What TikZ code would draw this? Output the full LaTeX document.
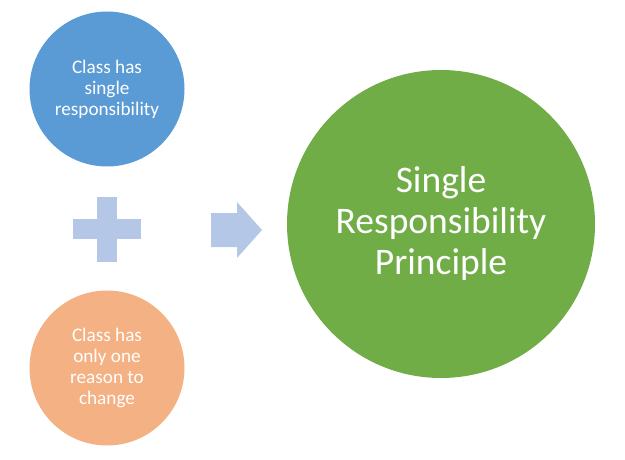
\documentclass[tikz,border=0pt]{standalone}
\usepackage{fontspec}
\setmainfont{Carlito}
\usetikzlibrary{positioning}
\definecolor{dutyblue}{HTML}{5B9BD5}
\definecolor{reasonorange}{HTML}{F4B183}
\definecolor{srpgreen}{HTML}{70AD47}
\definecolor{signblue}{HTML}{B4C7E7}
\tikzset{
	bubble/.style={circle, inner sep=0pt, text=white, align=center},
	smalltext/.style={font=\fontsize{19.2}{21}\selectfont},
	bigtext/.style={font=\fontsize{37.5}{41}\selectfont}
}

\begin{document}
\begin{tikzpicture}[x=1pt, y=-1pt]
			%%%%% START %%%%%
			\useasboundingbox (0, 0) rectangle (625, 460);
			
			\node[bubble, smalltext, fill=dutyblue, minimum size=155pt] (duty) at (107, 89) {Class has\\single\\responsibility};
			
			\node[bubble, smalltext, fill=reasonorange, minimum size=155pt] (reason) at (107, 368) {Class has\\only one\\reason to\\change};
			
			\coordinate (plus) at (107, 229);
			\fill[signblue] (97, 197) rectangle (117, 262);
			\fill[signblue] (73, 219) rectangle (141, 239);
			
			\coordinate (arrow) at (236, 230);
			\fill[signblue] (211, 213) -- (237, 213) -- (237, 202) -- (262, 230) -- (237, 258) -- (237, 247) -- (211, 247) -- cycle;
			
			\node[bubble, bigtext, fill=srpgreen, minimum size=308pt] (srp) at (441, 224) {Single\\Responsibility\\Principle};
			%%%%% END %%%%%
\end{tikzpicture}
\end{document}
